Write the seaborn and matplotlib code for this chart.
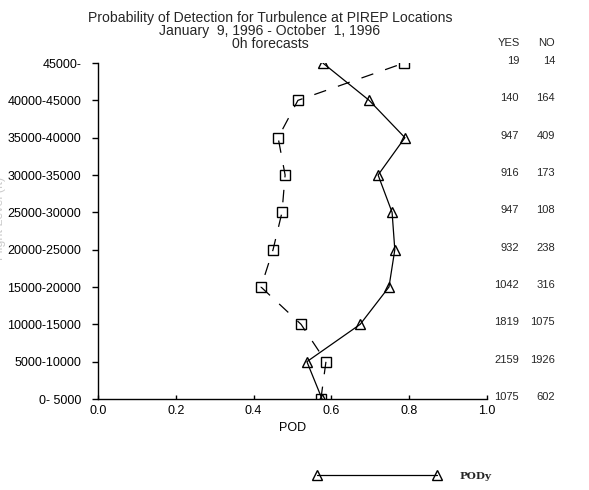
import matplotlib
matplotlib.use("Agg")
import matplotlib.pyplot as plt
import matplotlib.transforms as mtransforms
import seaborn as sns
import pandas as pd
import numpy as np

levels = ["0- 5000", "5000-10000", "10000-15000", "15000-20000", "20000-25000",
          "25000-30000", "30000-35000", "35000-40000", "40000-45000", "45000-"]
pody = [0.576, 0.537, 0.674, 0.748, 0.763, 0.756, 0.720, 0.789, 0.697, 0.578]
podn = [0.573, 0.586, 0.522, 0.419, 0.450, 0.473, 0.481, 0.463, 0.514, 0.787]
yes_counts = [1075, 2159, 1819, 1042, 932, 947, 916, 947, 140, 19]
no_counts = [602, 1926, 1075, 316, 238, 108, 173, 409, 164, 14]

sns.set_theme(style="white")
plt.rcParams["font.family"] = ["Liberation Sans", "DejaVu Sans"]

W, H = 589, 490
fig = plt.figure(figsize=(W / 100, H / 100), dpi=100)
ax = fig.add_axes([98 / W, (H - 399) / H, (487 - 98) / W, (399 - 63) / H])

df = pd.DataFrame({"level": np.arange(len(levels)), "pody": pody, "podn": podn})

sns.lineplot(data=df, x="pody", y="level", sort=False, estimator=None, ax=ax,
             color="black", lw=0.9, marker="^", markersize=6.5,
             markerfacecolor="none", markeredgecolor="black", markeredgewidth=1.0,
             label="PODy")
sns.lineplot(data=df, x="podn", y="level", sort=False, estimator=None, ax=ax,
             color="black", lw=0.9, marker="s", markersize=6.5,
             markerfacecolor="none", markeredgecolor="black", markeredgewidth=1.0,
             dashes=False, label="_podn")
ax.lines[1].set_dashes([10, 10])
for ln in ax.lines:
    ln.set_clip_on(True)
    ln.set_clip_box(ax.bbox)

ax.set_xlim(0, 1)
ax.set_ylim(0, len(levels) - 1)
ax.set_xticks([0.0, 0.2, 0.4, 0.6, 0.8, 1.0])
ax.set_xticklabels(["0.0", "0.2", "0.4", "0.6", "0.8", "1.0"], fontsize=9)
ax.set_yticks(np.arange(len(levels)))
ax.set_yticklabels(levels, fontsize=9)
ax.tick_params(axis="x", direction="in", length=3, width=1, pad=4, colors="black", bottom=True)
ax.tick_params(axis="y", direction="out", length=4, width=1, pad=8, colors="black", left=True)
for s in ["top", "right"]:
    ax.spines[s].set_visible(False)
for s in ["left", "bottom"]:
    ax.spines[s].set_color("black")
    ax.spines[s].set_linewidth(1.0)
ax.set_xlabel("POD", fontsize=9, labelpad=4, color="black")
ax.set_ylabel("")
ax.grid(False)

fig.text(0 / W, (H - 218) / H, "Flight Level (ft)", rotation=90, ha="center",
         va="center", fontsize=9, color="#cccccc")

# titles
tx = 270 / W
fig.text(tx, (H - 18) / H, "Probability of Detection for Turbulence at PIREP Locations",
         ha="center", va="center", fontsize=10.1)
fig.text(tx, (H - 31) / H, "January  9, 1996 - October  1, 1996",
         ha="center", va="center", fontsize=10.1)
fig.text(tx, (H - 44) / H, "0h forecasts", ha="center", va="center", fontsize=10.1)

# YES / NO counts
trans = mtransforms.blended_transform_factory(fig.transFigure, ax.transData)
fig.text(520 / W, (H - 43) / H, "YES", ha="right", va="center", fontsize=8)
fig.text(555 / W, (H - 43) / H, "NO", ha="right", va="center", fontsize=8)
for i, (y, n) in enumerate(zip(yes_counts, no_counts)):
    ax.text(519 / W, i + 0.05, str(y), transform=trans, ha="right", va="center",
            fontsize=8, clip_on=False)
    ax.text(555 / W, i + 0.05, str(n), transform=trans, ha="right", va="center",
            fontsize=8, clip_on=False)

handles, labels = ax.get_legend_handles_labels()
leg = ax.legend(handles[:1], ["PODy"], loc="center left",
                bbox_to_anchor=(304 / W, (H - 476) / H), bbox_transform=fig.transFigure,
                frameon=False, numpoints=2, handlelength=12.2, handletextpad=1.8,
                prop={"family": "DejaVu Serif", "weight": "bold", "size": 7.5})

fig.savefig("out.png", dpi=100)
